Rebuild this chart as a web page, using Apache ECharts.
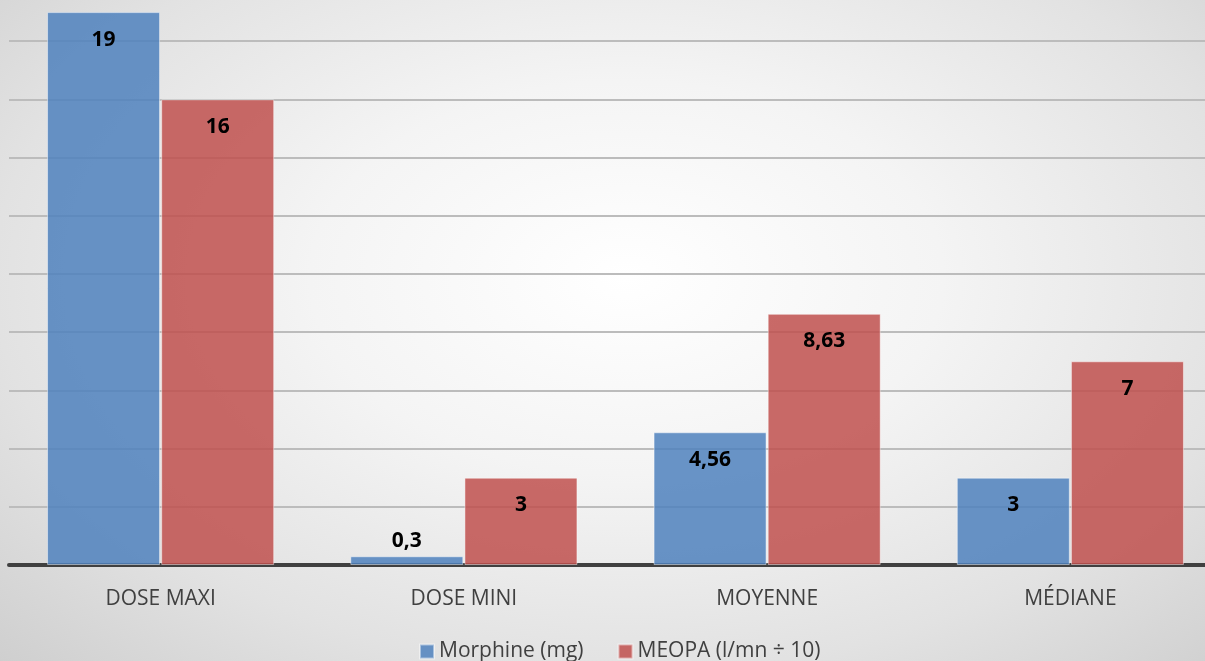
<!DOCTYPE html>
<html>
<head>
<meta charset="utf-8">
<script src="https://cdn.jsdelivr.net/npm/echarts@6/dist/echarts.min.js"></script>
<style>
  html, body { margin: 0; padding: 0; overflow: hidden; }
  #frame {
    position: relative; overflow: hidden;
    width: 1205px; height: 661px;
    background: radial-gradient(ellipse 75% 85% at 52% 42%, #ffffff 0%, #f4f4f4 35%, #e2e2e2 70%, #cdcdcd 100%);
  }
  /* plot extends a little beyond the frame on the top and right */
  #chart { position: absolute; left: 0; top: -17px; width: 1222px; height: 678px; }
</style>
</head>
<body>
<div id="frame"><div id="chart"></div></div>
<script>
// Categories and values
const categories = ['DOSE MAXI', 'DOSE MINI', 'MOYENNE', 'MÉDIANE'];
const morphine = [19, 0.3, 4.56, 3];
const meopa = [16, 3, 8.63, 7];
const seriesNames = ['Morphine (mg)', 'MEOPA (l/mn ÷ 10)'];

const fmt = v => String(v).replace('.', ',');

const labelStyle = {
  show: true,
  position: 'insideTop',
  distance: 17,
  color: '#000',
  fontFamily: 'Open Sans',
  fontWeight: 'bold',
  fontSize: 21,
  formatter: p => fmt(p.value)
};

// Small bars get their label above the bar
function toItems(arr) {
  return arr.map(v => v < 1 ? { value: v, label: { position: 'top', distance: 5 } } : v);
}

const chart = echarts.init(document.getElementById('chart'), null, { renderer: 'canvas' });
chart.setOption({
  backgroundColor: 'transparent',
  animation: false,
  grid: { left: 9, right: 0, top: 0, bottom: 96, containLabel: false },
  legend: {
    top: 653,
    left: 620,
    orient: 'horizontal',
    itemWidth: 14,
    itemHeight: 14,
    itemGap: 34,
    icon: 'rect',
    textStyle: { color: '#404040', fontSize: 21, fontFamily: 'Open Sans' },
    data: seriesNames
  },
  xAxis: {
    type: 'category',
    data: categories,
    axisLine: { show: true, lineStyle: { color: '#404040', width: 4 } },
    axisTick: { show: false },
    axisLabel: { color: '#404040', fontSize: 21, fontFamily: 'Open Sans', margin: 24 }
  },
  yAxis: {
    type: 'value',
    min: 0,
    max: 20,
    interval: 2,
    axisLabel: { show: false },
    axisLine: { show: false },
    axisTick: { show: false },
    splitLine: { lineStyle: { color: '#bcbcbc', width: 2 } }
  },
  series: [
    {
      name: seriesNames[0],
      type: 'bar',
      data: toItems(morphine),
      barWidth: 113,
      barGap: '1%',
      itemStyle: { color: 'rgba(79,129,189,0.85)', borderColor: 'rgba(255,255,255,0.45)', borderWidth: 1 },
      label: labelStyle
    },
    {
      name: seriesNames[1],
      type: 'bar',
      data: toItems(meopa),
      barWidth: 113,
      barGap: '1%',
      itemStyle: { color: 'rgba(192,80,77,0.85)', borderColor: 'rgba(255,255,255,0.45)', borderWidth: 1 },
      label: labelStyle
    }
  ]
});
// center the legend horizontally around x = 620
const lg = chart.getModel().getComponent('legend');
const view = chart.getViewOfComponentModel(lg);
const w = view.group.getBoundingRect().width;
chart.setOption({ legend: { left: Math.round(620 - w / 2) } });
</script>
</body>
</html>
